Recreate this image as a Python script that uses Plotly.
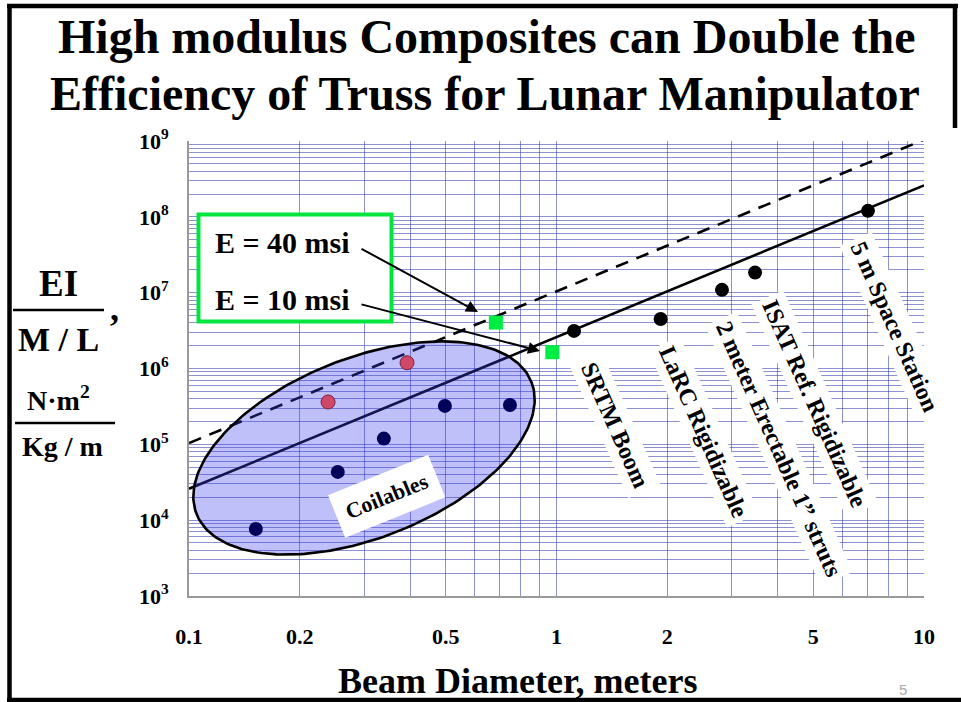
import numpy as np
import plotly.graph_objects as go

# ---------------- data ----------------
coil_x = [0.152, 0.254, 0.339, 0.497, 0.747]
coil_y = [7.66e3, 4.33e4, 1.19e5, 3.21e5, 3.30e5]
coil_red_x = [0.239, 0.392]
coil_red_y = [3.62e5, 1.19e6]
rigid_x = [1.116, 1.92, 2.82, 3.47, 7.04]
rigid_y = [3.13e6, 4.5e6, 1.09e7, 1.84e7, 1.2e8]
rigid_labels = ["SRTM Boom", "LaRC Rigidizable", "2 meter Erectable 1\u201d struts",
                "ISAT Ref. Rigidizable", "5 m Space Station"]
design_x = [0.684, 0.974]
design_y = [4.03e6, 1.64e6]
line_x = [0.1, 10]
e10_y = [2.6e4, 2.6e8]
e40_y = [1.04e5, 1.04e9]

x_label_vals = [0.1, 0.2, 0.5, 1, 2, 5, 10]
x_label_text = ["0.1", "0.2", "0.5", "1", "2", "5", "10"]
y_label_exps = [3, 4, 5, 6, 7, 8, 9]

# ---------------- layout geometry ----------------
W, H = 961, 702
L, R, T, B = 189, 924, 141, 596
XR = (-1.0, 1.0)
YR = (3.0, 9.0)

def lx(px):
    return XR[0] + (XR[1] - XR[0]) * (px - L) / (R - L)

def ly(py):
    return YR[0] + (YR[1] - YR[0]) * (B - py) / (B - T)

def xp(px):
    return (px - L) / (R - L)

def yp(py):
    return (B - py) / (B - T)

SERIF = "Liberation Serif"

# tick / grid values
x_grid = [m * 10.0 ** e for e in (-1, 0) for m in range(1, 10)] + [10.0]
x_text = []
for v in x_grid:
    lab = ""
    for lv, lt in zip(x_label_vals, x_label_text):
        if abs(v - lv) < 1e-9 * max(1, lv):
            lab = lt
    x_text.append(lab)

y_grid = [m * 10.0 ** e for e in range(3, 9) for m in range(1, 10)] + [1e9]
y_text = []
for v in y_grid:
    e = round(np.log10(v))
    y_text.append(f"10<sup>{e}</sup>" if abs(v - 10.0 ** e) < 1e-6 * v and e in y_label_exps else "")

fig = go.Figure()

# design lines
fig.add_trace(go.Scatter(x=line_x, y=e40_y, mode="lines",
                         line=dict(color="black", width=2.6, dash="13px,9px"),
                         hoverinfo="skip", showlegend=False))
fig.add_trace(go.Scatter(x=line_x, y=e10_y, mode="lines",
                         line=dict(color="black", width=2.6),
                         hoverinfo="skip", showlegend=False))

# coilables ellipse (rotated, drawn in screen proportion)
cx, cy = 364, 448
ea, eb, th = 180, 90, np.deg2rad(21.5)
t = np.linspace(0, 2 * np.pi, 241)
u = ea * np.cos(t) * np.cos(th) - eb * np.sin(t) * np.sin(th)
v = ea * np.cos(t) * np.sin(th) + eb * np.sin(t) * np.cos(th)
ex = 10 ** lx(cx + u)
ey = 10 ** ly(cy - v)
fig.add_trace(go.Scatter(x=ex, y=ey, mode="lines", fill="toself",
                         fillcolor="rgba(60,60,240,0.33)",
                         line=dict(color="black", width=2.6),
                         hoverinfo="skip", showlegend=False))

# markers
fig.add_trace(go.Scatter(x=coil_x, y=coil_y, mode="markers",
                         marker=dict(color="#00005a", size=14),
                         showlegend=False))
fig.add_trace(go.Scatter(x=coil_red_x, y=coil_red_y, mode="markers",
                         marker=dict(color="#d04868", size=14,
                                     line=dict(color="#7a2040", width=1)),
                         showlegend=False))
fig.add_trace(go.Scatter(x=rigid_x, y=rigid_y, mode="markers",
                         marker=dict(color="black", size=14),
                         showlegend=False))
fig.add_trace(go.Scatter(x=design_x, y=design_y, mode="markers",
                         marker=dict(color="#00ee44", size=14, symbol="square"),
                         showlegend=False))

ann = []

# title
ann.append(dict(text="<b>High modulus Composites can Double the</b>",
                x=xp(486), y=yp(37), xref="paper", yref="paper",
                showarrow=False, font=dict(family=SERIF, size=48, color="black"),
                xanchor="center", yanchor="middle"))
ann.append(dict(text="<b>Efficiency of Truss for Lunar Manipulator</b>",
                x=xp(485), y=yp(94), xref="paper", yref="paper",
                showarrow=False, font=dict(family=SERIF, size=48, color="black"),
                xanchor="center", yanchor="middle"))

# x-axis title
ann.append(dict(text="<b>Beam Diameter, meters</b>",
                x=xp(518), y=yp(681), xref="paper", yref="paper",
                showarrow=False, font=dict(family=SERIF, size=36, color="black"),
                xanchor="center", yanchor="middle"))

# y-axis stacked fraction label
for txt, px_, py_, sz in [("<b>EI</b>", 58, 283, 37),
                          ("<b>M / L</b>", 58, 339, 34),
                          ("<b>,</b>", 114, 308, 36),
                          ("<b>N\u00b7m<sup>2</sup></b>", 58, 398, 28),
                          ("<b>Kg / m</b>", 62, 446, 28)]:
    ann.append(dict(text=txt, x=xp(px_), y=yp(py_), xref="paper", yref="paper",
                    showarrow=False, font=dict(family=SERIF, size=sz, color="black"),
                    xanchor="center", yanchor="middle"))

# rotated point labels (offsets from each point, px)
label_offsets = [(41, 94), (43, 113), (57, 159), (60, 131), (27, 116)]
for xv, yv, lab, (dx, dy) in zip(rigid_x, rigid_y, rigid_labels, label_offsets):
    ann.append(dict(text=f"<b>{lab}</b>", x=np.log10(xv), y=np.log10(yv),
                    xref="x", yref="y", showarrow=False, textangle=66,
                    xshift=dx, yshift=-dy, bgcolor="white", borderpad=4,
                    font=dict(family=SERIF, size=24, color="black"),
                    xanchor="center", yanchor="middle"))

# Coilables label
ann.append(dict(text="<b>Coilables</b>", x=lx(386), y=ly(496), xref="x", yref="y",
                showarrow=False, textangle=-22, bgcolor="white", borderpad=10,
                font=dict(family=SERIF, size=22, color="black"),
                xanchor="center", yanchor="middle"))

# legend box texts
ann.append(dict(text="<b>E = 40 msi</b>", x=xp(282), y=yp(242), xref="paper", yref="paper",
                showarrow=False, font=dict(family=SERIF, size=30, color="black"),
                xanchor="center", yanchor="middle"))
ann.append(dict(text="<b>E = 10 msi</b>", x=xp(282), y=yp(299), xref="paper", yref="paper",
                showarrow=False, font=dict(family=SERIF, size=30, color="black"),
                xanchor="center", yanchor="middle"))

# arrows
for hx, hy, tx, ty in [(478, 312, 360, 248), (540, 351, 360, 304)]:
    ann.append(dict(text="", x=lx(hx), y=ly(hy), xref="x", yref="y",
                    ax=tx - hx, ay=ty - hy, showarrow=True, arrowhead=2,
                    arrowsize=1.2, arrowwidth=2, arrowcolor="black"))

# page number
ann.append(dict(text="5", x=xp(903), y=yp(689), xref="paper", yref="paper",
                showarrow=False, font=dict(family="Liberation Sans", size=15, color="#aaaaaa"),
                xanchor="center", yanchor="middle"))

shapes = []
# green legend box
shapes.append(dict(type="rect", xref="paper", yref="paper",
                   x0=xp(198.5), x1=xp(391.5), y0=yp(214.5), y1=yp(321.5),
                   line=dict(color="#00e63c", width=4), fillcolor="white", layer="above"))
# fraction bars
shapes.append(dict(type="line", xref="paper", yref="paper",
                   x0=xp(13), x1=xp(104), y0=yp(310), y1=yp(310),
                   line=dict(color="black", width=2.5)))
shapes.append(dict(type="line", xref="paper", yref="paper",
                   x0=xp(15), x1=xp(115), y0=yp(423), y1=yp(423),
                   line=dict(color="black", width=2.5)))
# slide frame
frame = dict(color="black", width=4.5)
shapes.append(dict(type="line", xref="paper", yref="paper",
                   x0=xp(9.5), x1=xp(9.5), y0=yp(4), y1=yp(702), line=frame))
shapes.append(dict(type="line", xref="paper", yref="paper",
                   x0=xp(7), x1=xp(958), y0=yp(6), y1=yp(6), line=frame))
shapes.append(dict(type="line", xref="paper", yref="paper",
                   x0=xp(955), x1=xp(955), y0=yp(4), y1=yp(128), line=frame))
shapes.append(dict(type="line", xref="paper", yref="paper",
                   x0=xp(7), x1=xp(961), y0=yp(700), y1=yp(700), line=frame))

grid_col = "rgba(45,55,175,0.55)"
fig.update_layout(
    width=W, height=H,
    margin=dict(l=L, r=W - R, t=T, b=H - B, autoexpand=False),
    paper_bgcolor="white", plot_bgcolor="white",
    showlegend=False,
    annotations=ann, shapes=shapes,
    xaxis=dict(type="log", range=list(XR), tickmode="array", tickvals=x_grid, ticktext=x_text,
               showgrid=True, gridcolor=grid_col, gridwidth=1, zeroline=False,
               showline=True, linecolor="#999999", linewidth=2, ticks="",
               ticklabelstandoff=20, automargin=False,
               tickfont=dict(family=SERIF, size=22, color="black", weight="bold")),
    yaxis=dict(type="log", range=list(YR), tickmode="array", tickvals=y_grid, ticktext=y_text,
               showgrid=True, gridcolor=grid_col, gridwidth=1, zeroline=False,
               showline=True, linecolor="#999999", linewidth=2, ticks="",
               ticklabelstandoff=14, automargin=False,
               tickfont=dict(family=SERIF, size=22, color="black", weight="bold")),
)

fig.write_html("out.html", config={"displayModeBar": False},
               post_script="document.body.style.margin='0';document.body.style.overflow='hidden';")
